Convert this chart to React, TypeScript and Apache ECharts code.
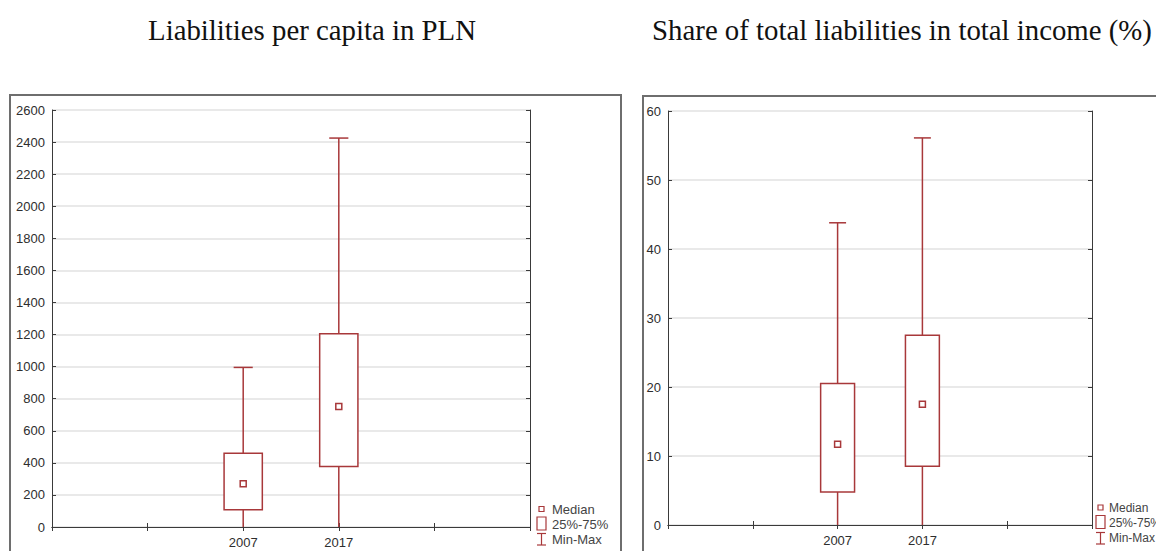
import React, { useEffect, useRef } from "react";
import * as echarts from "echarts";

const xCategories = ["", "", "2007", "2017", "", ""];
const years = ["2007", "2017"];

const perCapitaMin = [0, 0];
const perCapitaQ1 = [108, 377];
const perCapitaMedian = [270, 752];
const perCapitaQ3 = [460, 1205];
const perCapitaMax = [995, 2425];

const shareMin = [0, 0];
const shareQ1 = [4.8, 8.5];
const shareMedian = [11.7, 17.5];
const shareQ3 = [20.5, 27.5];
const shareMax = [43.8, 56.1];

const titles = ["Liabilities per capita in PLN", "Share of total liabilities in total income (%)"];
const legendLabels = ["Median", "25%-75%", "Min-Max"];

const RED = "#a8383a";
const AXIS = "#3a3a3a";
const GRIDLINE = "#e2e2e2";

function buildData(mins: number[], q1: number[], med: number[], q3: number[], maxs: number[]) {
  return years.map((y, i) => [y, mins[i], q1[i], med[i], q3[i], maxs[i]]);
}

function renderBox(params: any, api: any) {
  const xv = api.value(0);
  const mn = api.coord([xv, api.value(1)]);
  const q1 = api.coord([xv, api.value(2)]);
  const md = api.coord([xv, api.value(3)]);
  const q3 = api.coord([xv, api.value(4)]);
  const mx = api.coord([xv, api.value(5)]);
  const band = api.size([1, 0])[0];
  const bw = band * 0.4;
  const cw = band * 0.2;
  const x = mn[0];
  const ls = { stroke: RED, lineWidth: 1.5, fill: "none" };
  return {
    type: "group",
    children: [
      { type: "line", shape: { x1: x, y1: mn[1], x2: x, y2: q1[1] }, style: ls },
      { type: "line", shape: { x1: x, y1: q3[1], x2: x, y2: mx[1] }, style: ls },
      { type: "line", shape: { x1: x - cw / 2, y1: mx[1], x2: x + cw / 2, y2: mx[1] }, style: ls },
      { type: "rect", shape: { x: x - bw / 2, y: q3[1], width: bw, height: q1[1] - q3[1] }, style: { stroke: RED, lineWidth: 1.5, fill: "#ffffff" } },
      { type: "rect", shape: { x: x - 3, y: md[1] - 3, width: 6, height: 6 }, style: { stroke: RED, lineWidth: 1.5, fill: "#ffffff" } },
    ],
  };
}

function legendGraphics(sx: number, ty: number[], tx: number, fs: number) {
  const st = { stroke: RED, lineWidth: 1.2, fill: "none" };
  const ts = { fill: "#444", font: fs + "px 'Liberation Sans', Arial, sans-serif", verticalAlign: "middle", align: "left" } as any;
  return [
    { type: "rect", shape: { x: sx + 2, y: ty[0] - 2.5, width: 5, height: 5 }, style: st },
    { type: "rect", shape: { x: sx, y: ty[1] - 7, width: 9, height: 13 }, style: st },
    { type: "line", shape: { x1: sx, y1: ty[2] - 5.5, x2: sx + 9, y2: ty[2] - 5.5 }, style: st },
    { type: "line", shape: { x1: sx + 4.5, y1: ty[2] - 5.5, x2: sx + 4.5, y2: ty[2] + 6 }, style: st },
    { type: "line", shape: { x1: sx, y1: ty[2] + 6, x2: sx + 9, y2: ty[2] + 6 }, style: st },
    { type: "text", x: tx, y: ty[0], style: { ...ts, text: legendLabels[0] } },
    { type: "text", x: tx, y: ty[1], style: { ...ts, text: legendLabels[1] } },
    { type: "text", x: tx, y: ty[2], style: { ...ts, text: legendLabels[2] } },
  ];
}

export default function App() {
  const ref = useRef<HTMLDivElement>(null);
  useEffect(() => {
    if (!ref.current) return;
    const chart = echarts.init(ref.current, undefined, { renderer: "svg" });
    const labelFont = { color: "#2e2e2e", fontSize: 13, fontFamily: "'Liberation Sans', Arial, sans-serif" };
    const mkX = (gi: number, pos: "bottom" | "top") => ({
      type: "category",
      gridIndex: gi,
      position: pos,
      data: xCategories,
      boundaryGap: false,
      axisLine: { show: true, lineStyle: { color: AXIS, width: 1 } },
      axisTick: { show: true, inside: true, length: 4, lineStyle: { color: AXIS } },
      axisLabel: { show: pos === "bottom", interval: 0, margin: 9, ...labelFont },
      splitLine: { show: false },
    });
    const mkY = (gi: number, pos: "left" | "right", max: number, interval: number) => ({
      type: "value",
      gridIndex: gi,
      position: pos,
      min: 0,
      max,
      interval,
      axisLine: { show: true, lineStyle: { color: AXIS, width: 1 } },
      axisTick: { show: true, inside: true, length: 4, lineStyle: { color: AXIS } },
      axisLabel: { show: pos === "left", margin: 7, formatter: (v: number) => String(v), ...labelFont },
      splitLine: { show: pos === "left", lineStyle: { color: GRIDLINE, width: 1.5 } },
    });
    chart.setOption({
      animation: false,
      backgroundColor: "#ffffff",
      grid: [
        { left: 52, top: 110, width: 478, height: 417 },
        { left: 668, top: 111, width: 424, height: 414 },
      ],
      xAxis: [mkX(0, "bottom"), mkX(0, "top"), mkX(1, "bottom"), mkX(1, "top")],
      yAxis: [mkY(0, "left", 2600, 200), mkY(0, "right", 2600, 200), mkY(1, "left", 60, 10), mkY(1, "right", 60, 10)],
      series: [
        {
          type: "custom",
          xAxisIndex: 0,
          yAxisIndex: 0,
          renderItem: renderBox,
          encode: { x: 0, y: [1, 2, 3, 4, 5] },
          data: buildData(perCapitaMin, perCapitaQ1, perCapitaMedian, perCapitaQ3, perCapitaMax),
          z: 5,
        },
        {
          type: "custom",
          xAxisIndex: 2,
          yAxisIndex: 2,
          renderItem: renderBox,
          encode: { x: 0, y: [1, 2, 3, 4, 5] },
          data: buildData(shareMin, shareQ1, shareMedian, shareQ3, shareMax),
          z: 5,
        },
      ],
      graphic: [
        { type: "rect", shape: { x: 10, y: 95, width: 611, height: 480 }, style: { stroke: "#6e6e6e", lineWidth: 2, fill: "none" }, z: -1 },
        { type: "rect", shape: { x: 643, y: 96, width: 540, height: 480 }, style: { stroke: "#6e6e6e", lineWidth: 2, fill: "none" }, z: -1 },
        { type: "text", x: 312, y: 30, style: { text: titles[0], fill: "#111", font: "28.8px 'Liberation Serif', 'Times New Roman', serif", align: "center", verticalAlign: "middle" } },
        { type: "text", x: 902, y: 30, style: { text: titles[1], fill: "#111", font: "28.8px 'Liberation Serif', 'Times New Roman', serif", align: "center", verticalAlign: "middle" } },
        ...legendGraphics(537, [509, 524, 539], 552, 13),
        ...legendGraphics(1096, [507.5, 522.5, 538], 1109, 12),
      ],
    });
    return () => chart.dispose();
  }, []);
  return <div ref={ref} style={{ position: "absolute", left: 0, top: 0, width: 1156, height: 551 }} />;
}
